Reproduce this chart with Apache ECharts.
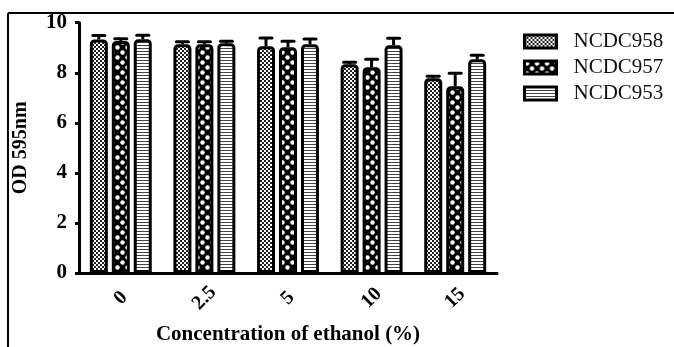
<!DOCTYPE html>
<html>
<head>
<meta charset="utf-8">
<script src="https://cdn.jsdelivr.net/npm/echarts@6/dist/echarts.min.js"></script>
<style>html,body{margin:0;padding:0;background:#fff;}#c{width:674px;height:347px;}</style>
</head>
<body>
<div id="c"></div>
<script>
const categories = ['0', '2.5', '5', '10', '15'];
const seriesNames = ['NCDC958', 'NCDC957', 'NCDC953'];
const ncdc958 = [9.33, 9.14, 9.06, 8.34, 7.78];
const ncdc957 = [9.27, 9.14, 9.02, 8.22, 7.46];
const ncdc953 = [9.34, 9.18, 9.14, 9.10, 8.54];
const err958 = [0.16, 0.10, 0.33, 0.08, 0.08];
const err957 = [0.09, 0.10, 0.24, 0.32, 0.52];
const err953 = [0.16, 0.08, 0.21, 0.28, 0.16];
const yTicks = [0, 2, 4, 6, 8, 10];

function makePattern(kind) {
  const c = document.createElement('canvas');
  const ctx = c.getContext('2d');
  if (kind === 'fine') {
    c.width = 4; c.height = 4;
    ctx.fillStyle = '#fff'; ctx.fillRect(0, 0, 4, 4);
    ctx.fillStyle = '#222';
    ctx.fillRect(0, 0, 2, 2); ctx.fillRect(2, 2, 2, 2);
  } else if (kind === 'coarse') {
    c.width = 10; c.height = 10;
    ctx.fillStyle = '#000'; ctx.fillRect(0, 0, 10, 10);
    ctx.fillStyle = '#fff';
    ctx.beginPath(); ctx.arc(2.5, 2.5, 2.2, 0, Math.PI * 2); ctx.fill();
    ctx.beginPath(); ctx.arc(7.5, 7.5, 2.2, 0, Math.PI * 2); ctx.fill();
  } else {
    c.width = 4; c.height = 3;
    ctx.fillStyle = '#fff'; ctx.fillRect(0, 0, 4, 3);
    ctx.fillStyle = '#444'; ctx.fillRect(0, 0, 4, 1);
  }
  return { image: c, repeat: 'repeat' };
}
const patterns = [makePattern('fine'), makePattern('coarse'), makePattern('lines')];
const values = [ncdc958, ncdc957, ncdc953];
const errs = [err958, err957, err953];

const chart = echarts.init(document.getElementById('c'));
const FONT = 'Liberation Serif';
const BAR_W = 18, STEP = 22;

const series = [];
seriesNames.forEach((name, i) => {
  series.push({
    name: name,
    type: 'bar',
    barWidth: BAR_W,
    barGap: '22%',
    data: values[i],
    itemStyle: { color: patterns[i], borderColor: '#000', borderWidth: 3, borderRadius: [3, 3, 0, 0] },
    z: 2
  });
});
seriesNames.forEach((name, i) => {
  series.push({
    type: 'custom',
    name: name + '_err',
    data: values[i].map((v, k) => [k, v, v + errs[i][k]]),
    z: 3,
    silent: true,
    renderItem: function (params, api) {
      const x = api.value(0);
      const p0 = api.coord([x, api.value(1)]);
      const p1 = api.coord([x, api.value(2)]);
      const cx = p0[0] + (i - 1) * STEP;
      return {
        type: 'group',
        children: [
          { type: 'line', shape: { x1: cx, y1: p0[1], x2: cx, y2: p1[1] }, style: { stroke: '#000', lineWidth: 3 } },
          { type: 'line', shape: { x1: cx - 6, y1: p1[1], x2: cx + 6, y2: p1[1] }, style: { stroke: '#000', lineWidth: 3, lineCap: 'round' } }
        ]
      };
    }
  });
});

chart.setOption({
  animation: false,
  backgroundColor: '#fff',
  grid: { left: 79, right: 177, top: 22.7, bottom: 74, containLabel: false, outerBoundsMode: 'none' },
  legend: {
    data: seriesNames,
    orient: 'vertical',
    left: 518,
    top: 26,
    itemWidth: 32,
    itemHeight: 13,
    itemGap: 5,
    icon: 'rect',
    itemStyle: { borderColor: '#000', borderWidth: 3 },
    textStyle: { fontFamily: FONT, fontSize: 21, color: '#111', padding: [0, 0, 0, 12] }
  },
  xAxis: {
    type: 'category',
    data: categories,
    name: 'Concentration of ethanol (%)',
    nameLocation: 'middle',
    nameGap: 51,
    nameTextStyle: { fontFamily: FONT, fontSize: 21, fontWeight: 'bold', color: '#000' },
    axisLine: { lineStyle: { color: '#000', width: 3 } },
    axisTick: { alignWithLabel: true, length: 6, lineStyle: { color: '#000', width: 3 } },
    axisLabel: { rotate: 45, margin: 25, align: 'center', verticalAlign: 'middle', fontFamily: FONT, fontSize: 20, fontWeight: 'bold', color: '#000' }
  },
  yAxis: {
    type: 'value',
    min: yTicks[0],
    max: yTicks[yTicks.length - 1],
    interval: 2,
    name: 'OD 595nm',
    nameLocation: 'middle',
    nameGap: 48,
    nameRotate: 90,
    nameTextStyle: { fontFamily: FONT, fontSize: 20, fontWeight: 'bold', color: '#000' },
    axisLine: { show: true, lineStyle: { color: '#000', width: 3 } },
    axisTick: { show: true, length: 4, lineStyle: { color: '#000', width: 3 } },
    splitLine: { show: false },
    axisLabel: { margin: 12, fontFamily: FONT, fontSize: 21, fontWeight: 'bold', color: '#000' }
  },
  graphic: [
    { type: 'line', shape: { x1: 8, y1: 13, x2: 674, y2: 13 }, style: { stroke: '#000', lineWidth: 2 } },
    { type: 'line', shape: { x1: 8, y1: 13, x2: 8, y2: 347 }, style: { stroke: '#000', lineWidth: 2 } }
  ],
  series: series
});
</script>
</body>
</html>
